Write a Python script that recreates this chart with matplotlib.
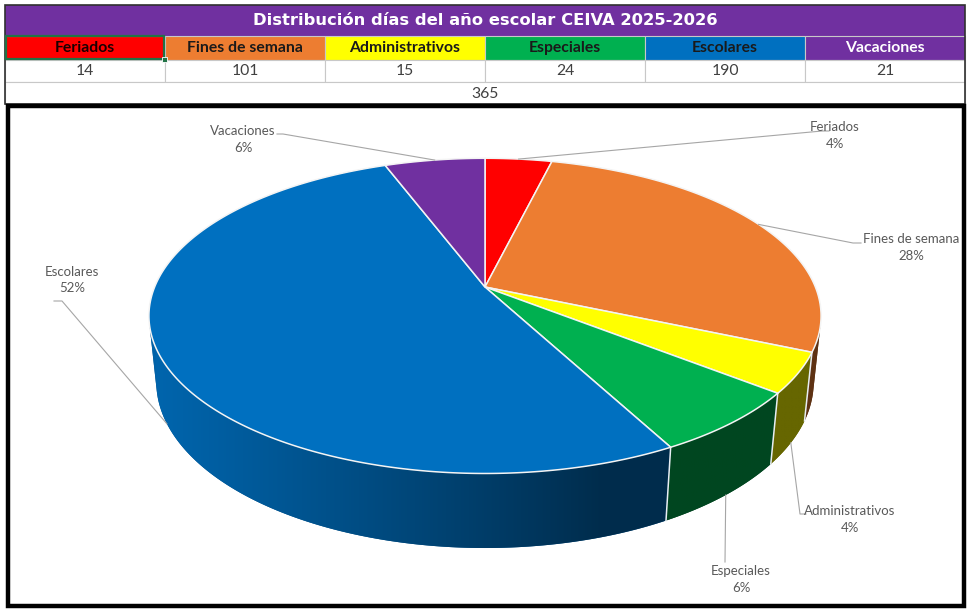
import numpy as np
import matplotlib
matplotlib.use("Agg")
import matplotlib.pyplot as plt
from matplotlib.patches import Rectangle, Polygon
import matplotlib.colors as mcolors

# ---------------- data ----------------
title = "Distribución días del año escolar CEIVA 2025-2026"
categories = ["Feriados", "Fines de semana", "Administrativos", "Especiales", "Escolares", "Vacaciones"]
days = [14, 101, 15, 24, 190, 21]
pct_labels = ["4%", "28%", "4%", "6%", "52%", "6%"]
colors = ["#FF0000", "#ED7D31", "#FFFF00", "#00B050", "#0070C0", "#7030A0"]
header_text_colors = ["#1a0000", "#1a1a1a", "#1a1a1a", "#1a1a1a", "#1a1a1a", "#FFFFFF"]
total = sum(days)

# ---------------- layout ----------------
W, H = 970, 615
fig = plt.figure(figsize=(W / 100, H / 100), dpi=100)
ax = fig.add_axes([0, 0, 1, 1])
ax.axis("off")

LAB_FONT = ["Lato", "DejaVu Sans"]
TXT = "#595959"
GRID = "#C8C8C8"

# table geometry
tx0, tx1 = 5, 965
row_y = [5, 35.5, 59.5, 82, 104]
ncol = len(categories)
cw = (tx1 - tx0) / ncol

# title row
ax.add_patch(Rectangle((tx0, row_y[0]), tx1 - tx0, row_y[1] - row_y[0], facecolor="#7030A0", edgecolor="none"))
ax.text((tx0 + tx1) / 2, (row_y[0] + row_y[1]) / 2 + 0.5, title, color="white", fontsize=11.8,
        fontweight="bold", family=["DejaVu Sans"], ha="center", va="center")

# header & value rows
for i, (cat, val, col, tc) in enumerate(zip(categories, days, colors, header_text_colors)):
    x = tx0 + i * cw
    ax.add_patch(Rectangle((x, row_y[1]), cw, row_y[2] - row_y[1], facecolor=col, edgecolor=GRID, lw=0.8))
    ax.text(x + cw / 2, (row_y[1] + row_y[2]) / 2 + 0.5, cat, color=tc, fontsize=11.3, fontweight="bold",
            family=LAB_FONT, ha="center", va="center")
    ax.add_patch(Rectangle((x, row_y[2]), cw, row_y[3] - row_y[2], facecolor="white", edgecolor=GRID, lw=0.8))
    ax.text(x + cw / 2, (row_y[2] + row_y[3]) / 2 + 0.5, str(val), color="#404040", fontsize=11.3,
            family=LAB_FONT, ha="center", va="center")

# total row (merged)
ax.add_patch(Rectangle((tx0, row_y[3]), tx1 - tx0, row_y[4] - row_y[3], facecolor="white", edgecolor=GRID, lw=0.8))
ax.text((tx0 + tx1) / 2, (row_y[3] + row_y[4]) / 2 + 0.5, str(total), color="#404040", fontsize=11.3,
        family=LAB_FONT, ha="center", va="center")

# outer table border
ax.add_patch(Rectangle((tx0, row_y[0]), tx1 - tx0, row_y[4] - row_y[0], facecolor="none", edgecolor="#303030", lw=1.2))
# Excel selection on first header cell
ax.add_patch(Rectangle((tx0 + 1, row_y[1] + 0.5), cw - 1.5, row_y[2] - row_y[1] - 1, facecolor="none",
                       edgecolor="#217346", lw=1.6, zorder=5))
ax.add_patch(Rectangle((tx0 + cw - 2.5, row_y[2] - 2.5), 5, 5, facecolor="#217346", edgecolor="white", lw=0.6, zorder=6))

# chart frame
ax.add_patch(Rectangle((8, 106), 956, 500, facecolor="white", edgecolor="black", lw=3.2, zorder=1))

# ---------------- 3D pie (perspective projection) ----------------
CX, CY = 485, 287          # apex position on screen
F = 1599.0                 # focal scale
DIST = 4.84                # camera distance (radius units)
SIN_E, COS_E = 0.461, 0.887  # camera elevation
THICK = 0.227              # pie thickness (radius units)
ALPHA = np.arcsin(1.0 / (DIST * COS_E))   # silhouette angle of the side wall


def proj(theta, yv):
    st, ct = np.sin(theta), np.cos(theta)
    pw = yv * SIN_E - st * COS_E
    depth = DIST - pw
    pu = yv * COS_E + st * SIN_E
    return CX + F * ct / depth, CY - F * pu / depth


def shade_k(theta):
    L = np.array([-1.0, 0.3]) / np.hypot(1.0, 0.3)
    d = np.cos(theta) * L[0] - np.sin(theta) * L[1]
    return 0.4 + 0.5 * np.clip(d, 0, None)


vals = np.array(days, dtype=float)
fracs = vals / vals.sum()
starts = np.pi / 2 - 2 * np.pi * np.concatenate([[0], np.cumsum(fracs)[:-1]])
ends = starts - 2 * np.pi * fracs

# mapping screen x -> angle on the front (top) edge
th_front = np.linspace(-np.pi, 0, 2000)
x_front = np.array([proj(t, 0)[0] for t in th_front])

# side faces with gradient shading (front-facing part only)
for i in range(len(days)):
    a0 = min(starts[i], -ALPHA)
    a1 = max(ends[i], -np.pi + ALPHA)
    if a0 <= a1:
        continue
    th = np.linspace(a0, a1, 400)
    top = [proj(t, 0) for t in th]
    bot = [proj(t, -THICK) for t in th[::-1]]
    poly = top + bot
    base = np.array(mcolors.to_rgb(colors[i]))
    mid = 0.5 * (a0 + a1)
    patch = Polygon(poly, closed=True, facecolor=base * shade_k(mid), edgecolor="none", zorder=2)
    ax.add_patch(patch)
    pxs = np.array([p[0] for p in poly])
    pys = np.array([p[1] for p in poly])
    xg = np.linspace(pxs.min(), pxs.max(), 300)
    tg = np.interp(xg, x_front, th_front)
    img = (base[None, :] * shade_k(tg)[:, None])[None, :, :]
    im = ax.imshow(img, extent=[pxs.min(), pxs.max(), pys.max(), pys.min()], aspect="auto",
                   interpolation="bilinear", zorder=2.5)
    im.set_clip_path(patch)

# slice boundary lines on the visible side
for a in np.concatenate([starts, [ends[-1]]]):
    if np.sin(a) < -np.sin(ALPHA):
        xs, ys = zip(proj(a, 0), proj(a, -THICK))
        ax.plot(xs, ys, color="#E8EEF4", lw=1.1, zorder=3)

# top face
step = np.deg2rad(0.5)
for i in range(len(days)):
    th = np.linspace(starts[i], ends[i], max(4, int(np.ceil((starts[i] - ends[i]) / step)) + 1))
    pts = [(CX, CY)] + [proj(t, 0) for t in th]
    ax.add_patch(Polygon(pts, closed=True, facecolor=colors[i], edgecolor="#F4F4F4", lw=1.1,
                         joinstyle="round", zorder=4))

# ---------------- data labels ----------------
mids = 0.5 * (starts + ends)
label_pos = [(835, 127), (911, 239), (850, 511), (741, 571), (72, 272), (243, 131)]
elbows = [[(829, 131), (822, 131)],
          [(861, 243), (853, 243)],
          [(806, 514), (800, 514)],
          [(725, 562)],
          [(54, 301), (62, 301)],
          [(277, 134), (283, 134)]]
for i in range(len(days)):
    yv = -THICK if np.sin(mids[i]) < -0.3 else 0.0
    tgt = proj(mids[i], yv)
    pts = elbows[i] + [tgt]
    xs, ys = zip(*pts)
    ax.plot(xs, ys, color="#A6A6A6", lw=0.8, zorder=5)
    lx, ly = label_pos[i]
    ax.text(lx, ly, categories[i], color=TXT, fontsize=9.5, family=LAB_FONT, ha="center", va="center", zorder=6)
    ax.text(lx, ly + 16.5, pct_labels[i], color=TXT, fontsize=9.5, family=LAB_FONT, ha="center", va="center", zorder=6)

ax.set_xlim(0, W)
ax.set_ylim(H, 0)
fig.savefig("out.png", dpi=100, facecolor="white")
